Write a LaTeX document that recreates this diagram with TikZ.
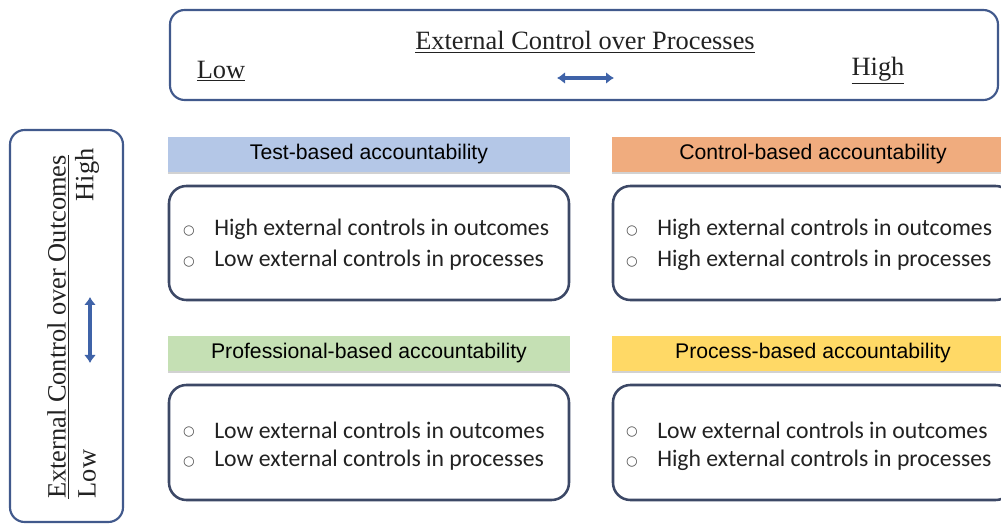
\documentclass[tikz,border=0pt]{standalone}
\usepackage{fontspec}
\setmainfont{Liberation Serif}
\newfontfamily\hdfont{Liberation Sans}
\newfontfamily\bodyfont{Carlito}
\newfontfamily\bulfont{DejaVu Sans}
\usetikzlibrary{arrows.meta,shadows}
\definecolor{frameblue}{HTML}{41598C}
\definecolor{boxedge}{HTML}{3C4866}
\definecolor{arrowblue}{HTML}{3F63A8}
\definecolor{hdblue}{HTML}{B4C7E7}
\definecolor{hdorange}{HTML}{F0AC7E}
\definecolor{hdgreen}{HTML}{C5E0B4}
\definecolor{hdyellow}{HTML}{FFD966}
\definecolor{txt}{HTML}{222222}
\tikzset{
  outer/.style={draw=frameblue, line width=1.6pt, rounded corners=11pt, fill=white},
  hdbar/.style={draw=none, minimum height=26.25pt, inner sep=0pt, font=\hdfont\fontsize{15.9}{18}\selectfont, text=black, drop shadow={shadow xshift=0pt, shadow yshift=-1.5pt, opacity=0.35}},
  cbox/.style={draw=boxedge, line width=1.9pt, rounded corners=13pt, fill=white},
  bul/.style={anchor=west, inner sep=0pt, font=\bodyfont\fontsize{17.8}{20}\selectfont, text=txt},
  dot/.style={anchor=center, inner sep=0pt, font=\bulfont\fontsize{10}{11}\selectfont, text=txt!80},
  serif/.style={inner sep=0pt, font=\fontsize{19.8}{22}\selectfont, text=txt},
  dblarrow/.style={{Latex[length=6pt,width=9pt]}-{Latex[length=6pt,width=9pt]}, draw=arrowblue, line width=3.2pt}
}
\begin{document}
\begin{tikzpicture}[x=0.75pt,y=-0.75pt]
\useasboundingbox (0,0) rectangle (1001,527);
\clip (0,0) rectangle (1001,527);
\fill[white] (0,0) rectangle (1001,527);

% top frame
\draw[outer] (170,10) rectangle (998,100);
\node[serif] (ptitle) at (585,42) {\underline{External Control over Processes}};
\node[serif] (plow) at (221,71) {\underline{Low}};
\node[serif] (phigh) at (878,71) {\underline{High}};
\coordinate (pa1) at (557,78);
\coordinate (pa2) at (614,78);
\draw[dblarrow] (pa1) -- (pa2);

% left frame
\draw[outer] (10,130) rectangle (123,522);
\node[serif, rotate=90] (otitle) at (58,327) {\underline{External Control over Outcomes}};
\node[serif, rotate=90] (ohigh) at (87,175) {High};
\node[serif, rotate=90] (olow) at (87,474) {Low};
\coordinate (oa1) at (90,297);
\coordinate (oa2) at (90,363);
\draw[dblarrow] (oa1) -- (oa2);

% headers
\node[hdbar, fill=hdblue, minimum width=301.5pt] (h1) at (369,154.5) {Test-based accountability};
\node[hdbar, fill=hdorange, minimum width=301.5pt] (h2) at (813,154.5) {Control-based accountability};
\node[hdbar, fill=hdgreen, minimum width=301.5pt] (h3) at (369,353.5) {Professional-based accountability};
\node[hdbar, fill=hdyellow, minimum width=301.5pt] (h4) at (813,353.5) {Process-based accountability};

% content boxes
\draw[cbox] (169,186) rectangle (569,300);
\draw[cbox] (613,186) rectangle (1013,300);
\draw[cbox] (169,385) rectangle (569,500);
\draw[cbox] (613,385) rectangle (1013,500);

% bullets
\node[dot] (d1) at (189,231) {○};
\node[bul] (t1) at (214,229) {High external controls in outcomes};
\node[dot] (d2) at (189,262) {○};
\node[bul] (t2) at (214,260) {Low external controls in processes};

\node[dot] (d3) at (632,231) {○};
\node[bul] (t3) at (657,229) {High external controls in outcomes};
\node[dot] (d4) at (632,262) {○};
\node[bul] (t4) at (657,260) {High external controls in processes};

\node[dot] (d5) at (189,432) {○};
\node[bul] (t5) at (214,430) {Low external controls in outcomes};
\node[dot] (d6) at (189,462) {○};
\node[bul] (t6) at (214,460) {Low external controls in processes};

\node[dot] (d7) at (632,432) {○};
\node[bul] (t7) at (657,430) {Low external controls in outcomes};
\node[dot] (d8) at (632,462) {○};
\node[bul] (t8) at (657,460) {High external controls in processes};
\end{tikzpicture}
\end{document}
